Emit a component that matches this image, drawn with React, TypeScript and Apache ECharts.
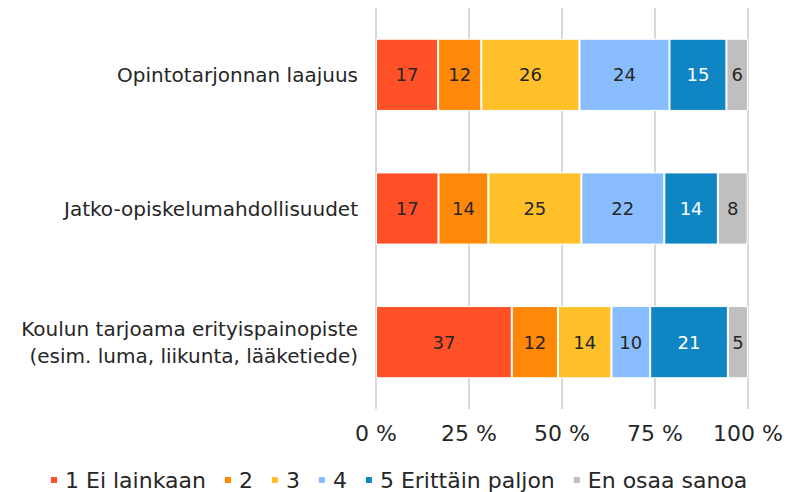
import React, { useEffect, useRef } from "react";
import * as echarts from "echarts";

const categories = [
  "Opintotarjonnan laajuus",
  "Jatko-opiskelumahdollisuudet",
  "Koulun tarjoama erityispainopiste\n(esim. luma, liikunta, lääketiede)",
];

const seriesNames = ["1 Ei lainkaan", "2", "3", "4", "5 Erittäin paljon", "En osaa sanoa"];
const seriesColors = ["#FF5028", "#FF8808", "#FFC02A", "#88BEFF", "#1085C4", "#BFBFBF"];
const labelColors = ["#262626", "#262626", "#262626", "#262626", "#FFFFFF", "#262626"];

// bar shares (%) per category
const s1 = [16.7, 16.8, 36.5];
const s2 = [11.6, 13.4, 12.4];
const s3 = [26.4, 25.0, 14.4];
const s4 = [24.2, 22.3, 10.4];
const s5 = [15.3, 14.4, 20.9];
const s6 = [5.8, 8.0, 5.4];
// printed data labels
const l1 = [17, 17, 37];
const l2 = [12, 14, 12];
const l3 = [26, 25, 14];
const l4 = [24, 22, 10];
const l5 = [15, 14, 21];
const l6 = [6, 8, 5];

const xTicks = [0, 25, 50, 75, 100];

const FONT = "DejaVu Sans";

export default function App() {
  const ref = useRef<HTMLDivElement>(null);
  useEffect(() => {
    if (!ref.current) return;
    const chart = echarts.init(ref.current, undefined, { renderer: "svg" });
    const values = [s1, s2, s3, s4, s5, s6];
    const labels = [l1, l2, l3, l4, l5, l6];
    chart.setOption({
      animation: false,
      textStyle: { fontFamily: FONT },
      grid: { left: 376, right: 39, top: 8, bottom: 83, containLabel: false },
      legend: {
        top: 469,
        left: 49,
        itemWidth: 8,
        itemHeight: 8,
        itemGap: 17,
        icon: "rect",
        padding: 0,
        textStyle: { fontSize: 22, color: "#262626", fontFamily: FONT, padding: [0, 0, 0, 2] },
        data: seriesNames,
      },
      xAxis: {
        type: "value",
        min: 0,
        max: 100,
        interval: 25,
        axisLine: { show: false },
        axisTick: { show: false },
        splitLine: { show: true, lineStyle: { color: "#D9D9D9", width: 2 } },
        axisLabel: {
          fontSize: 22,
          color: "#262626",
          margin: 13,
          formatter: (v: number) => (xTicks.includes(v) ? `${v} %` : ""),
        },
      },
      yAxis: {
        type: "category",
        data: categories,
        inverse: true,
        axisLine: { show: false },
        axisTick: { show: false },
        axisLabel: { fontSize: 20, color: "#262626", margin: 18, lineHeight: 27, align: "right" },
      },
      series: seriesNames.map((name, i) => ({
        name,
        type: "bar",
        stack: "total",
        barWidth: "54%",
        data: values[i],
        itemStyle: { color: seriesColors[i], borderColor: "#FFFFFF", borderWidth: 1 },
        label: {
          show: true,
          position: "inside",
          fontSize: 18,
          color: labelColors[i],
          fontFamily: FONT,
          formatter: (p: any) => String(labels[i][p.dataIndex]),
        },
      })),
    });
    return () => chart.dispose();
  }, []);
  return (
    <div
      ref={ref}
      style={{ position: "fixed", left: 0, top: 0, width: 787, height: 492, background: "#fff" }}
    />
  );
}
